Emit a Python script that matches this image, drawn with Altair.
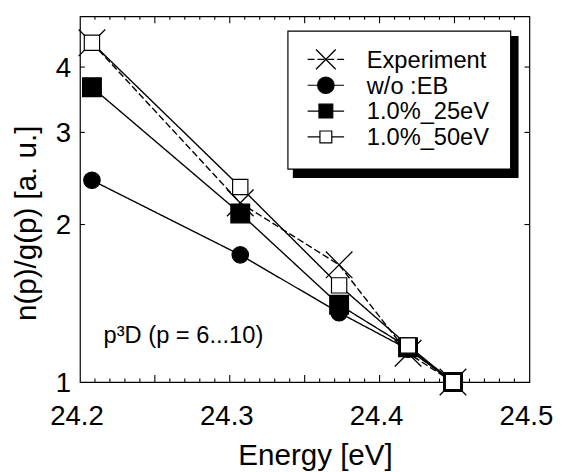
import math
import altair as alt
import pandas as pd

# ---------------- data ----------------
energy = [24.208, 24.307, 24.373, 24.419, 24.449]
experiment = [4.45, 2.20, 1.675, 1.135, 1.0]
wo_eb = [2.43, 1.75, 1.357, 1.155, 1.0]
eb_25ev = [3.66, 2.10, 1.405, 1.165, 1.0]
eb_50ev = [4.45, 2.36, 1.53, 1.174, 1.0]
series_names = ["Experiment", "w/o :EB", "1.0%_25eV", "1.0%_50eV"]
x_labels = [24.2, 24.3, 24.4, 24.5]
y_labels = [1, 2, 3, 4]
x_title = "Energy [eV]"
y_title = "n(p)/g(p) [a. u.]"
note = "p³D (p = 6...10)"

# ---------------- setup ----------------
FONT = "Liberation Sans"
W, H = 456, 371
Y0, Y1 = 1, 5

series_values = [experiment, wo_eb, eb_25ev, eb_50ev]
rows = []
for name, vals in zip(series_names, series_values):
    for e, v in zip(energy, vals):
        rows.append({"energy": e, "value": v, "series": name})
df = pd.DataFrame(rows)

X_PATH = "M-1,-1L1,1M-1,1L1,-1"
styles = {
    "Experiment": dict(shape=X_PATH, filled=False, fill="black", size=729, lsize=400, dash=[7, 3]),
    "w/o :EB": dict(shape="circle", filled=True, fill="black", size=279, lsize=279, dash=[1, 0]),
    "1.0%_25eV": dict(shape="square", filled=True, fill="black", size=361, lsize=196, dash=[1, 0]),
    "1.0%_50eV": dict(shape="square", filled=True, fill="white", size=240, lsize=144, dash=[1, 0]),
}

x0, x1 = x_labels[0], x_labels[-1]
xs = alt.Scale(domain=[x0, x1], nice=False, zero=False)
ys = alt.Scale(type="log", domain=[Y0, Y1], nice=False)

# inward tick rows (tick length converted to data units; the chart scales place them)
px_per_dec = H / math.log10(Y1 / Y0)
px_per_x = W / (x1 - x0)
n_minor = int(round((x1 - x0) / 0.01))
trows = []
for i in range(1, n_minor):
    v = round(x0 + 0.01 * i, 2)
    ln = 7 if abs(v * 20 - round(v * 20)) < 1e-6 else 3.5
    f = 10 ** (ln / px_per_dec)
    trows.append({"tx": v, "tx2": v, "ty": Y0, "ty2": Y0 * f})
    trows.append({"tx": v, "tx2": v, "ty": Y1, "ty2": Y1 / f})
for v in y_labels[1:]:
    d = 5 / px_per_x
    trows.append({"tx": x0, "tx2": x0 + d, "ty": v, "ty2": v})
    trows.append({"tx": x1, "tx2": x1 - d, "ty": v, "ty2": v})
tdf = pd.DataFrame(trows)

xlab = pd.DataFrame({"lx": x_labels, "txt": [f"{v:.1f}" for v in x_labels]})
ylab = pd.DataFrame({"ly": y_labels, "txt": [str(v) for v in y_labels]})

layers = []
base = alt.Chart(df)
layers.append(base.mark_line(color="black", strokeWidth=1.4).encode(
    x=alt.X("energy:Q", scale=xs, axis=None),
    y=alt.Y("value:Q", scale=ys, axis=None),
    detail="series:N",
    strokeDash=alt.StrokeDash("series:N", scale=alt.Scale(domain=series_names,
                              range=[styles[s]["dash"] for s in series_names]), legend=None),
))

layers.append(alt.Chart(tdf).mark_rule(color="black", strokeWidth=1.1).encode(
    x=alt.X("tx:Q", scale=xs, axis=None), x2="tx2:Q",
    y=alt.Y("ty:Q", scale=ys, axis=None), y2="ty2:Q"))

for name in series_names:
    st = styles[name]
    if st["filled"]:
        mk = base.mark_point(shape=st["shape"], size=st["size"], filled=True, fill=st["fill"],
                             stroke="black", strokeWidth=1.2, opacity=1)
    else:
        mk = base.mark_point(shape=st["shape"], size=st["size"], filled=False,
                             stroke="black", strokeWidth=1.3, opacity=1)
    layers.append(mk.transform_filter(alt.datum.series == name).encode(
        x=alt.X("energy:Q", scale=xs, axis=None),
        y=alt.Y("value:Q", scale=ys, axis=None),
    ))

# tick labels and axis titles
layers.append(alt.Chart(xlab).mark_text(align="center", baseline="alphabetic", font=FONT,
                                        fontSize=28, color="black", dx=-3).encode(
    x=alt.X("lx:Q", scale=xs, axis=None), y=alt.value(H + 44), text="txt:N"))
layers.append(alt.Chart(ylab).mark_text(align="right", baseline="alphabetic", font=FONT,
                                        fontSize=28, color="black", dy=10).encode(
    y=alt.Y("ly:Q", scale=ys, axis=None), x=alt.value(-9), text="txt:N"))
titles = pd.DataFrame({"xt": [x_title], "yt": [y_title]})
layers.append(alt.Chart(titles).mark_text(align="center", baseline="alphabetic", font=FONT,
                                          fontSize=30, color="black").encode(
    x=alt.value(239), y=alt.value(455), text="xt:N"))
layers.append(alt.Chart(titles).mark_text(align="center", baseline="alphabetic", font=FONT,
                                          fontSize=30, color="black", angle=270).encode(
    x=alt.value(-45), y=alt.value(210), text="yt:N"))

# annotation
one = pd.DataFrame({"note": [note]})
layers.append(alt.Chart(one).mark_text(align="left", baseline="alphabetic", font=FONT,
                                       fontSize=24, color="black").encode(
    x=alt.value(24), y=alt.value(331), text="note:N"))

# legend (box with shadow)
layers.append(alt.Chart(one).mark_rect(color="black").encode(
    x=alt.value(216), x2=alt.value(445), y=alt.value(20), y2=alt.value(164)))
layers.append(alt.Chart(one).mark_rect(fill="white", stroke="black", strokeWidth=1.2).encode(
    x=alt.value(211), x2=alt.value(437), y=alt.value(15), y2=alt.value(155)))

for i, name in enumerate(series_names):
    st = styles[name]
    py = 43.7 + 26.2 * i
    ty = 52 + 26.3 * i
    row = pd.DataFrame({"label": [name]})
    layers.append(alt.Chart(row).mark_rule(color="black", strokeWidth=1.2,
                                           strokeDash=st["dash"]).encode(
        x=alt.value(231), x2=alt.value(268), y=alt.value(py)))
    if st["filled"]:
        mk = alt.Chart(row).mark_point(shape=st["shape"], size=st["lsize"], filled=True,
                                       fill=st["fill"], stroke="black", strokeWidth=1.2, opacity=1)
    else:
        mk = alt.Chart(row).mark_point(shape=st["shape"], size=st["lsize"], filled=False,
                                       stroke="black", strokeWidth=1.3, opacity=1)
    layers.append(mk.encode(x=alt.value(249.5), y=alt.value(py)))
    layers.append(alt.Chart(row).mark_text(align="left", baseline="alphabetic", font=FONT,
                                           fontSize=24, color="black").encode(
        x=alt.value(291), y=alt.value(ty), text="label:N"))

chart = alt.layer(*layers).properties(
    width=W, height=H,
    padding={"left": 73, "top": 5, "right": 27, "bottom": 100},
    autosize=alt.AutoSizeParams(type="none"),
    background="white",
).configure_view(stroke="black", strokeWidth=1.2)

chart.save("out.html", embed_options={"renderer": "svg", "actions": False})
